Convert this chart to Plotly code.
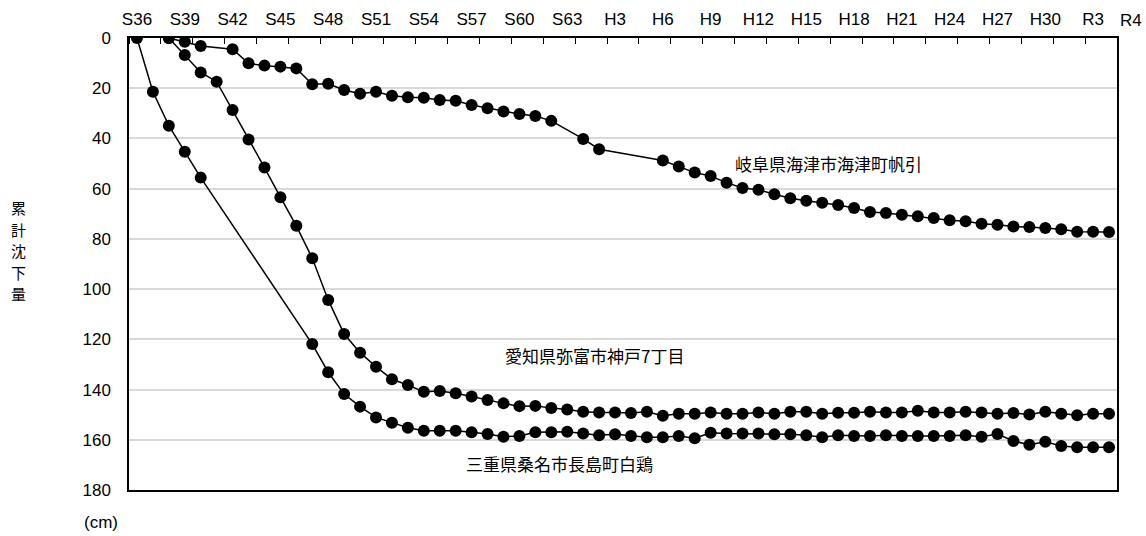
import plotly.graph_objects as go

years = list(range(1961, 2023))

tick_years = list(range(1961, 2022, 3))
tick_labels = ["S36", "S39", "S42", "S45", "S48", "S51", "S54", "S57", "S60", "S63",
               "H3", "H6", "H9", "H12", "H15", "H18", "H21", "H24", "H27", "H30", "R3"]

yticks = [0, 20, 40, 60, 80, 100, 120, 140, 160, 180]

name_mie = "三重県桑名市長島町白鶏"
name_aichi = "愛知県弥富市神戸7丁目"
name_gifu = "岐阜県海津市海津町帆引"
y_title = "累計沈下量"

# 1961 .. 2022 (None = no survey)
mie = [0, 21.4, 34.9, 45.3, 55.6, None, None, None, None, None,
       None, 121.9, 133.1, 141.8, 146.8, 151.1, 153.2, 155.2, 156.4, 156.4,
       156.4, 157.0, 157.7, 158.8, 158.5, 157.0, 157.0, 156.8, 157.5, 158.2,
       157.8, 158.5, 159.0, 159.0, 158.5, 159.4, 157.2, 157.5, 157.5, 157.5,
       157.8, 157.8, 158.2, 159.0, 158.2, 158.5, 158.5, 158.2, 158.5, 158.5,
       158.5, 158.5, 158.2, 158.8, 157.7, 160.5, 162.0, 160.8, 162.5, 163.0,
       163.0, 163.0]

aichi = [None, None, 0, 6.8, 13.7, 17.4, 28.7, 40.4, 51.6, 63.4,
         74.8, 87.7, 104.3, 117.9, 125.3, 130.9, 135.9, 138.2, 140.9, 140.6,
         141.5, 142.8, 144.2, 145.5, 146.6, 146.5, 147.3, 147.9, 148.8, 149.1,
         149.1, 149.3, 148.8, 150.4, 149.6, 149.6, 149.1, 149.6, 149.6, 149.1,
         149.6, 148.8, 148.8, 149.6, 149.2, 149.2, 148.8, 149.1, 149.1, 148.4,
         149.1, 149.1, 148.8, 149.1, 149.6, 149.3, 149.9, 148.8, 149.6, 150.2,
         149.6, 149.6]

gifu = [None, None, 0, 1.5, 3.2, None, 4.5, 10.1, 11.0, 11.4,
        12.1, 18.4, 18.2, 20.7, 22.2, 21.4, 23.0, 23.6, 23.8, 24.7,
        25.0, 26.7, 28.0, 29.3, 30.3, 31.1, 33.0, None, 40.2, 44.3,
        None, None, None, 48.8, 51.2, 53.6, 55.0, 57.6, 59.7, 60.4,
        62.2, 63.8, 64.8, 65.6, 66.5, 67.7, 69.3, 69.7, 70.4, 71.0,
        71.7, 72.6, 73.0, 74.0, 74.4, 75.1, 75.3, 75.7, 76.2, 77.2,
        77.2, 77.3]

fig = go.Figure()
for name, vals in [(name_gifu, gifu), (name_aichi, aichi), (name_mie, mie)]:
    fig.add_trace(go.Scatter(
        x=years, y=vals, name=name, mode="lines+markers", connectgaps=True,
        line=dict(color="black", width=1.5),
        marker=dict(color="black", size=12, symbol="circle"),
    ))

num_font = dict(family="Liberation Sans, Arial, sans-serif", size=17, color="black")
jp_font = dict(family="Noto Sans CJK JP, sans-serif", size=17, color="black")

# plot area at x 129..1117, y 38..490
fig.update_layout(
    width=1146, height=536,
    margin=dict(l=129, r=29, t=38, b=46, autoexpand=False),
    paper_bgcolor="white", plot_bgcolor="white",
    showlegend=False,
    xaxis=dict(
        range=[1960.5, 2022.5], side="top", automargin=False,
        tickmode="array", tickvals=tick_years, ticktext=tick_labels,
        ticks="", showgrid=False, zeroline=False,
        showline=True, linecolor="black", linewidth=2, mirror=True,
        tickfont=num_font, ticklabelstandoff=4,
        minor=dict(tickmode="linear", tick0=1960.5, dtick=2, ticks="inside",
                   ticklen=6, tickcolor="black", tickwidth=1, showgrid=False),
    ),
    yaxis=dict(
        range=[180, 0], tickmode="array", tickvals=yticks, automargin=False,
        ticks="", showgrid=True, gridcolor="#d9d9d9", gridwidth=1.5,
        zeroline=False, showline=True, linecolor="black", linewidth=1.5, mirror=True,
        tickfont=num_font, ticklabelstandoff=13,
    ),
)

fig.add_annotation(x=2004.4, y=49.8, xref="x", yref="y", text=name_gifu,
                   showarrow=False, font=jp_font)
fig.add_annotation(x=1989.7, y=126.6, xref="x", yref="y", text=name_aichi,
                   showarrow=False, font=jp_font)
fig.add_annotation(x=1987.5, y=169.3, xref="x", yref="y", text=name_mie,
                   showarrow=False, font=jp_font)

# vertical axis title, one character per line
for i, ch in enumerate(y_title):
    fig.add_annotation(x=-0.1123, y=0.6239 - i * 0.0473, xref="paper", yref="paper",
                       xanchor="center", yanchor="middle", text=ch, showarrow=False,
                       font=dict(family="Noto Sans CJK JP, sans-serif", size=15, color="black"))

fig.add_annotation(x=-0.0283, y=-0.0708, xref="paper", yref="paper",
                   xanchor="center", yanchor="middle",
                   text="(cm)", showarrow=False, font=num_font)
fig.add_annotation(x=1.0142, y=1.0398, xref="paper", yref="paper",
                   xanchor="center", yanchor="middle",
                   text="R4", showarrow=False, font=num_font)

fig.write_html(
    "out.html",
    config={"displayModeBar": False},
    post_script="document.body.style.margin='0';document.body.style.overflow='hidden';",
)
